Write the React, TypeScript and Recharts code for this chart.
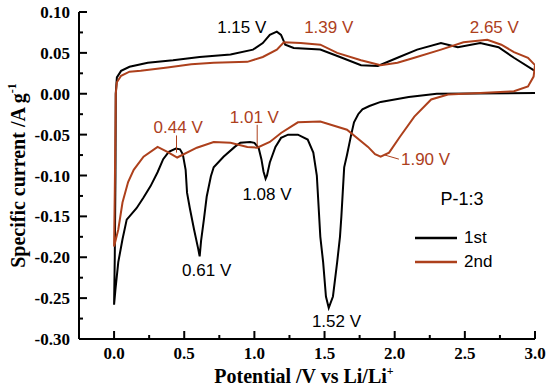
import React from 'react'
import {
  LineChart, Line, XAxis, YAxis, ReferenceDot, ReferenceLine, Legend, Label,
} from 'recharts'

// 1st cycle: cathodic 3.0 -> 0.0 V, then anodic back to 3.0 V
const cycle1V = [
  3.0, 2.3, 2.1, 1.9, 1.82, 1.77, 1.74, 1.71, 1.69, 1.66, 1.64, 1.63, 1.62, 1.61, 1.59, 1.56, 1.53,
  1.51, 1.49, 1.47, 1.455, 1.445, 1.42, 1.38, 1.31, 1.24, 1.19, 1.15, 1.11, 1.09, 1.08, 1.065, 1.05,
  1.03, 1.0, 0.97, 0.9, 0.86, 0.78, 0.71, 0.69, 0.66, 0.64, 0.62, 0.61, 0.6, 0.57, 0.54, 0.52, 0.51,
  0.49, 0.47, 0.44, 0.39, 0.35, 0.31, 0.26, 0.21, 0.16, 0.09, 0.06, 0.03, 0.01, 0.0,
  0.005, 0.01, 0.012, 0.02, 0.05, 0.11, 0.24, 0.42, 0.61, 0.83, 0.99, 1.06, 1.11, 1.16, 1.19, 1.22,
  1.28, 1.47, 1.61, 1.76, 1.88, 2.02, 2.16, 2.33, 2.45, 2.61, 2.74, 2.85, 2.99, 3.0,
]
const cycle1I = [
  0.001, 0.0, -0.004, -0.01, -0.015, -0.019, -0.025, -0.035, -0.05, -0.075, -0.09, -0.12, -0.15,
  -0.175, -0.206, -0.248, -0.262, -0.248, -0.206, -0.175, -0.13, -0.1, -0.072, -0.056, -0.05, -0.05,
  -0.054, -0.065, -0.084, -0.1, -0.104, -0.095, -0.08, -0.066, -0.06, -0.059, -0.06, -0.065, -0.077,
  -0.09, -0.101, -0.126, -0.154, -0.18, -0.199, -0.19, -0.166, -0.14, -0.121, -0.093, -0.074, -0.068,
  -0.067, -0.071, -0.08, -0.096, -0.113, -0.127, -0.14, -0.154, -0.178, -0.206, -0.239, -0.258,
  -0.2, -0.1, 0.0, 0.02, 0.028, 0.033, 0.038, 0.041, 0.045, 0.048, 0.054, 0.062, 0.072, 0.076,
  0.072, 0.06, 0.056, 0.054, 0.045, 0.035, 0.034, 0.044, 0.054, 0.062, 0.057, 0.062, 0.057, 0.044,
  0.029, 0.028,
]

// 2nd cycle: anodic 0.0 -> 3.0 V, then cathodic back to 0.0 V
const cycle2V = [
  0.0, 0.005, 0.01, 0.012, 0.02, 0.05, 0.11, 0.19, 0.38, 0.55, 0.71, 0.95, 1.06, 1.16, 1.21, 1.33,
  1.47, 1.59, 1.76, 1.9, 2.02, 2.14, 2.33, 2.49, 2.66, 2.76, 2.85, 2.95, 3.0,
  2.99, 2.95, 2.85, 2.61, 2.38, 2.26, 2.14, 2.04, 1.96, 1.9, 1.86, 1.81, 1.66, 1.47, 1.31, 1.19,
  1.11, 1.02, 0.95, 0.83, 0.71, 0.59, 0.45, 0.38, 0.31, 0.21, 0.14, 0.1, 0.06, 0.03, 0.0,
]
const cycle2I = [
  -0.187, -0.12, -0.04, 0.0, 0.014, 0.022, 0.027, 0.028, 0.032, 0.036, 0.038, 0.039, 0.045, 0.054,
  0.063, 0.062, 0.06, 0.05, 0.041, 0.035, 0.038, 0.044, 0.054, 0.063, 0.066, 0.06, 0.051, 0.044, 0.035,
  0.021, 0.009, 0.003, 0.001, -0.001, -0.007, -0.028, -0.052, -0.072, -0.077, -0.074, -0.065, -0.044,
  -0.034, -0.035, -0.048, -0.059, -0.066, -0.065, -0.06, -0.059, -0.066, -0.078, -0.071, -0.065,
  -0.077, -0.093, -0.108, -0.133, -0.166, -0.187,
]

const xTicks = [0, 0.25, 0.5, 0.75, 1, 1.25, 1.5, 1.75, 2, 2.25, 2.5, 2.75, 3]
const yTicks = [
  -0.3, -0.275, -0.25, -0.225, -0.2, -0.175, -0.15, -0.125, -0.1, -0.075, -0.05, -0.025, 0,
  0.025, 0.05, 0.075, 0.1,
]

const BLACK = '#000000'
const RED = '#ad401c'
const SERIF = '"Liberation Serif", "Times New Roman", serif'
const SANS = '"Liberation Sans", Arial, sans-serif'

// peak annotations (text centre in data units)
const notes = [
  { text: '1.15 V', v: 0.91, i: 0.082, color: BLACK },
  { text: '1.39 V', v: 1.53, i: 0.082, color: RED },
  { text: '2.65 V', v: 2.71, i: 0.082, color: RED },
  { text: '0.44 V', v: 0.457, i: -0.041, color: RED },
  { text: '1.01 V', v: 1.0, i: -0.028, color: RED },
  { text: '1.90 V', v: 2.22, i: -0.08, color: RED },
  { text: '1.08 V', v: 1.09, i: -0.123, color: BLACK },
  { text: '0.61 V', v: 0.66, i: -0.215, color: BLACK },
  { text: '1.52 V', v: 1.585, i: -0.278, color: BLACK },
]
const pointers = [
  { from: [0.445, -0.051], to: [0.445, -0.072] },
  { from: [1.02, -0.038], to: [1.02, -0.064] },
  { from: [1.93, -0.075], to: [2.03, -0.08] },
]

const toPoints = (vs: number[], is: number[]) => vs.map((v, k) => ({ v, i: is[k] }))
const data1 = toPoints(cycle1V, cycle1I)
const data2 = toPoints(cycle2V, cycle2I)

const isMajor = (v: number, step: number) => Math.abs(v / step - Math.round(v / step)) < 1e-6

const XTick = ({ x, y, payload }: any) => {
  const major = isMajor(payload.value, 0.5)
  return (
    <g>
      <line x1={x} y1={y} x2={x} y2={y - (major ? 8 : 4)} stroke="#000" strokeWidth={2} />
      {major && (
        <text x={x} y={y + 20} textAnchor="middle" fontFamily={SERIF} fontWeight="bold" fontSize={17} fill="#000">
          {payload.value.toFixed(1)}
        </text>
      )}
    </g>
  )
}

const YTick = ({ x, y, payload }: any) => {
  const major = isMajor(payload.value, 0.05)
  return (
    <g>
      <line x1={x} y1={y} x2={x + (major ? 8 : 4)} y2={y} stroke="#000" strokeWidth={2} />
      {major && (
        <text x={x - 9} y={y + 6} textAnchor="end" fontFamily={SERIF} fontWeight="bold" fontSize={17} fill="#000">
          {payload.value.toFixed(2)}
        </text>
      )}
    </g>
  )
}

const LegendBox = () => (
  <div style={{ fontFamily: SANS, fontSize: 17 }}>
    {[{ name: '1st', color: BLACK }, { name: '2nd', color: RED }].map(s => (
      <div key={s.name} style={{ display: 'flex', alignItems: 'center', height: 24 }}>
        <svg width={42} height={4}>
          <line x1={0} y1={2} x2={42} y2={2} stroke={s.color} strokeWidth={2.5} />
        </svg>
        <span style={{ marginLeft: 7 }}>{s.name}</span>
      </div>
    ))}
  </div>
)

export default function App() {
  return (
    <div style={{ position: 'absolute', left: 0, top: 0, background: '#fff' }}>
      <LineChart width={550} height={390} margin={{ top: 12, right: 15, left: 0, bottom: 0 }}>
        <XAxis
          dataKey="v" type="number" domain={[-0.25, 3]} ticks={xTicks} interval={0}
          allowDataOverflow height={51} tickSize={0} tickMargin={0} tickLine={false}
          axisLine={{ stroke: '#000', strokeWidth: 2 }} tick={<XTick />}
        >
          <Label
            content={({ viewBox }: any) => (
              <text x={viewBox.x + viewBox.width / 2 - 3} y={viewBox.y + 44} textAnchor="middle"
                fontFamily={SERIF} fontWeight="bold" fontSize={20} fill="#000">
                Potential /V vs Li/Li<tspan dy={-8} fontSize={12}>+</tspan>
              </text>
            )}
          />
        </XAxis>
        <XAxis xAxisId="top" orientation="top" type="number" domain={[-0.25, 3]} height={0}
          tick={false} tickLine={false} axisLine={{ stroke: '#000', strokeWidth: 2 }} />
        <YAxis
          type="number" domain={[-0.3, 0.1]} ticks={yTicks} interval={0} allowDataOverflow
          width={79} tickSize={0} tickMargin={0} tickLine={false}
          axisLine={{ stroke: '#000', strokeWidth: 2 }} tick={<YTick />}
        >
          <Label
            content={({ viewBox }: any) => {
              const cx = 25
              const cy = viewBox.y + viewBox.height / 2
              return (
                <text x={cx} y={cy} transform={`rotate(-90, ${cx}, ${cy})`} textAnchor="middle"
                  fontFamily={SERIF} fontWeight="bold" fontSize={20} fill="#000">
                  {'Specific current /A g'}<tspan dy={-9} fontSize={12}>-1</tspan>
                </text>
              )
            }}
          />
        </YAxis>
        <YAxis yAxisId="right" orientation="right" type="number" domain={[-0.3, 0.1]} width={0}
          tick={false} tickLine={false} axisLine={{ stroke: '#000', strokeWidth: 2 }} />

        <Line data={data1} dataKey="i" type="linear" stroke={BLACK} strokeWidth={2}
          dot={false} activeDot={false} isAnimationActive={false} />
        <Line data={data2} dataKey="i" type="linear" stroke={RED} strokeWidth={2}
          dot={false} activeDot={false} isAnimationActive={false} />

        {pointers.map((p, k) => (
          <ReferenceLine key={k} segment={[{ x: p.from[0], y: p.from[1] }, { x: p.to[0], y: p.to[1] }]}
            stroke={RED} strokeWidth={1} />
        ))}
        {notes.map(n => (
          <ReferenceDot key={n.text} x={n.v} y={n.i} r={0} fill="none" stroke="none"
            label={{ value: n.text, position: 'center', fill: n.color, fontSize: 17, fontFamily: SANS }} />
        ))}
        <ReferenceDot x={2.48} y={-0.128} r={0} fill="none" stroke="none"
          label={{ value: 'P-1:3', position: 'center', fill: BLACK, fontSize: 18, fontFamily: SANS }} />

        <Legend layout="vertical" align="center" verticalAlign="middle"
          wrapperStyle={{ position: 'absolute', left: 415, top: 226, width: 'auto' }}
          content={<LegendBox />} />
      </LineChart>
    </div>
  )
}
